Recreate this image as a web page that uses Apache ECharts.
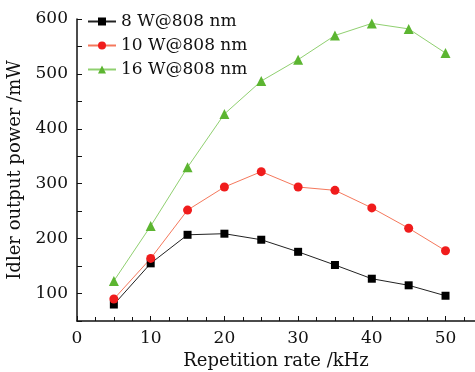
<!DOCTYPE html>
<html>
<head>
<meta charset="utf-8">
<script src="https://cdn.jsdelivr.net/npm/echarts@6/dist/echarts.min.js"></script>
<style>
  html, body { margin: 0; padding: 0; background: #fff; }
  #chart { width: 475px; height: 372px; }
</style>
</head>
<body>
<div id="chart"></div>
<script>
// repetition rate (kHz)
const rates = [5, 10, 15, 20, 25, 30, 35, 40, 45, 50];
// idler output power (mW)
const power8W = [80, 155, 207, 209, 198, 176, 152, 127, 115, 96];
const power10W = [90, 164, 252, 294, 322, 294, 288, 256, 219, 178];
const power16W = [123, 223, 330, 427, 487, 526, 570, 592, 582, 538];

const FONT = "DejaVu Serif";

function pairs(vals) {
  return rates.map((r, i) => [r, vals[i]]);
}

const chart = echarts.init(document.getElementById("chart"));

chart.setOption({
  animation: false,
  backgroundColor: "#fff",
  grid: { left: 77, right: 0, top: 19, bottom: 51, outerBoundsMode: "none", containLabel: false },
  legend: {
    orient: "vertical",
    left: 87,
    top: 13,
    padding: 0,
    itemWidth: 28,
    itemHeight: 10,
    itemGap: 7,
    textStyle: { fontFamily: FONT, fontSize: 17, color: "#111" },
    data: ["8 W@808 nm", "10 W@808 nm", "16 W@808 nm"],
  },
  xAxis: {
    type: "value",
    min: 0,
    max: 54,
    interval: 10,
    name: "Repetition rate /kHz",
    nameLocation: "middle",
    nameGap: 30,
    nameTextStyle: { fontFamily: FONT, fontSize: 18, color: "#111" },
    axisLine: { lineStyle: { color: "#111", width: 1.5 } },
    axisTick: { inside: true, length: 5, lineStyle: { color: "#111" } },
    minorTick: { show: true, splitNumber: 4, length: 4, lineStyle: { color: "#111" } },
    axisLabel: {
      fontFamily: FONT,
      fontSize: 17,
      color: "#111",
      margin: 9,
      showMaxLabel: false,
      formatter: (v) => (v % 10 === 0 ? String(v) : ""),
    },
    splitLine: { show: false },
  },
  yAxis: {
    type: "value",
    min: 50,
    max: 600,
    interval: 50,
    name: "Idler output power /mW",
    nameLocation: "middle",
    nameGap: 49,
    nameTextStyle: { fontFamily: FONT, fontSize: 18, color: "#111" },
    axisLine: { show: true, lineStyle: { color: "#111", width: 1.5 } },
    axisTick: { inside: true, length: 5, lineStyle: { color: "#111" } },
    axisLabel: {
      fontFamily: FONT,
      fontSize: 17,
      color: "#111",
      margin: 9,
      formatter: (v) => (v % 100 === 0 ? String(v) : ""),
    },
    splitLine: { show: false },
  },
  series: [
    {
      name: "8 W@808 nm",
      type: "line",
      data: pairs(power8W),
      symbol: "rect",
      symbolSize: 8,
      lineStyle: { color: "#222", width: 1 },
      itemStyle: { color: "#000" },
    },
    {
      name: "10 W@808 nm",
      type: "line",
      data: pairs(power10W),
      symbol: "circle",
      symbolSize: 9,
      lineStyle: { color: "#f5785c", width: 1 },
      itemStyle: { color: "#f01c1c" },
    },
    {
      name: "16 W@808 nm",
      type: "line",
      data: pairs(power16W),
      symbol: "triangle",
      symbolSize: 10,
      lineStyle: { color: "#90d070", width: 1 },
      itemStyle: { color: "#5cb531" },
    },
  ],
});
</script>
</body>
</html>
